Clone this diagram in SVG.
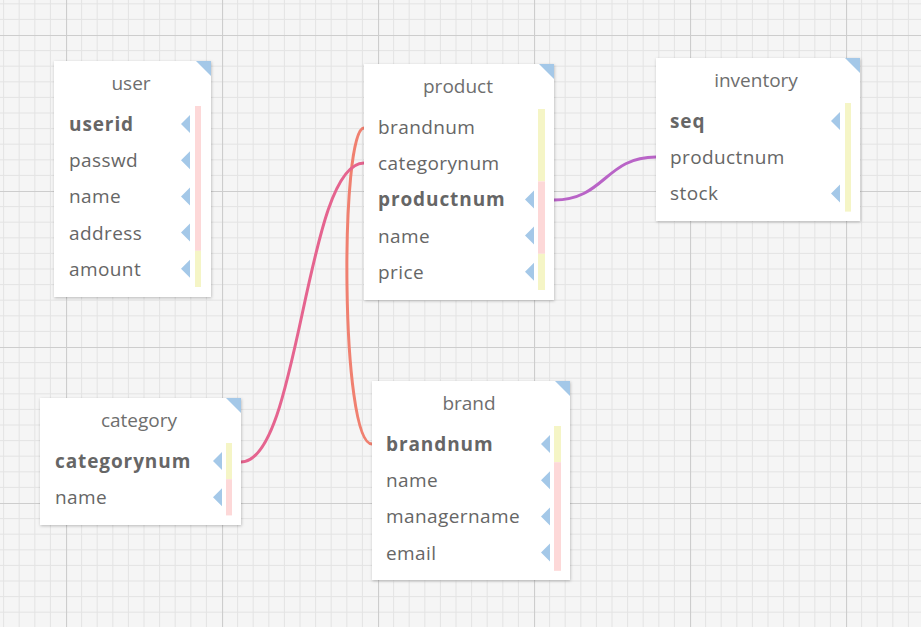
<svg xmlns="http://www.w3.org/2000/svg" width="924" height="635" viewBox="0 0 924 635">
<defs>
<pattern id="grid" x="66" y="35" width="156" height="156" patternUnits="userSpaceOnUse">
<rect width="156" height="156" fill="#f5f5f5"/>
<path d="M15.6 0V156M31.2 0V156M46.8 0V156M62.4 0V156M78 0V156M93.6 0V156M109.2 0V156M124.8 0V156M140.4 0V156M0 15.6H156M0 31.2H156M0 46.8H156M0 62.4H156M0 78H156M0 93.6H156M0 109.2H156M0 124.8H156M0 140.4H156" stroke="#e4e4e4" stroke-width="1" fill="none"/>
<path d="M0.5 0V156M0 0.5H156" stroke="#cdcdcd" stroke-width="1.2" fill="none"/>
</pattern>
<filter id="sh" x="-10%" y="-10%" width="120%" height="120%">
<feDropShadow dx="0.5" dy="1" stdDeviation="1.5" flood-color="#000" flood-opacity="0.25"/>
</filter>
</defs>
<style>
.box{fill:#fff;filter:url(#sh)}
.corner{fill:#a4c8e8}
.title{font-family:"Open Sans","Noto Sans",sans-serif;font-size:19px;fill:#6e6e6e;text-anchor:middle}
.f{font-family:"Open Sans","Noto Sans",sans-serif;font-size:19px;fill:#666;letter-spacing:0.4px}
.k{font-weight:bold;letter-spacing:0.9px}
.tri{fill:#a4c8e8}
.y{fill:#f5f5c6}
.p{fill:#fdd8d8}
.c{fill:none;stroke-width:3;stroke-linecap:round}
</style>
<rect x="0" y="0" width="924" height="635" fill="#fff"/>
<rect x="0" y="0" width="921" height="627" fill="url(#grid)"/>

<g id="connectors">
<path class="c" d="M364,128 C340,128 340,444 372,444" stroke="#f08070"/>
<path class="c" d="M241,462 C300,462 305,163 364,163" stroke="#e5648f"/>
<path class="c" d="M554,200 C605,200 605,157 656,157" stroke="#b964c7"/>
</g>

<g id="user">
<rect class="box" x="54" y="61" width="157" height="236"/>
<polygon class="corner" points="196,61 211,61 211,76"/>
<text class="title" x="131" y="89.5">user</text>
<rect class="p" x="195" y="106" width="6" height="144.8"/>
<rect class="y" x="195" y="250.8" width="6" height="36.2"/>
<text class="f k" x="69" y="131">userid</text>
<text class="f" x="69" y="167.2">passwd</text>
<text class="f" x="69" y="203.4">name</text>
<text class="f" x="69" y="239.6">address</text>
<text class="f" x="69" y="275.8">amount</text>
<polygon class="tri" points="181,124 190,115 190,133"/>
<polygon class="tri" points="181,160.2 190,151.2 190,169.2"/>
<polygon class="tri" points="181,196.4 190,187.4 190,205.4"/>
<polygon class="tri" points="181,232.6 190,223.6 190,241.6"/>
<polygon class="tri" points="181,268.8 190,259.8 190,277.8"/>
</g>

<g id="product">
<rect class="box" x="364" y="64" width="190" height="236"/>
<polygon class="corner" points="539,64 554,64 554,79"/>
<text class="title" x="458" y="92.5">product</text>
<rect class="y" x="538" y="109" width="7" height="72.4"/>
<rect class="p" x="538" y="181.4" width="7" height="72.4"/>
<rect class="y" x="538" y="253.8" width="7" height="36.2"/>
<text class="f" x="378" y="134">brandnum</text>
<text class="f" x="378" y="170.2">categorynum</text>
<text class="f k" x="378" y="206.4">productnum</text>
<text class="f" x="378" y="242.6">name</text>
<text class="f" x="378" y="278.8">price</text>
<polygon class="tri" points="525,199.4 534,190.4 534,208.4"/>
<polygon class="tri" points="525,235.6 534,226.6 534,244.6"/>
<polygon class="tri" points="525,271.8 534,262.8 534,280.8"/>
</g>

<g id="inventory">
<rect class="box" x="656" y="58" width="204" height="163"/>
<polygon class="corner" points="845,58 860,58 860,73"/>
<text class="title" x="756" y="86.5">inventory</text>
<rect class="y" x="845" y="103" width="6" height="108.6"/>
<text class="f k" x="670" y="128">seq</text>
<text class="f" x="670" y="164.2">productnum</text>
<text class="f" x="670" y="200.4">stock</text>
<polygon class="tri" points="831,121 840,112 840,130"/>
<polygon class="tri" points="831,193.4 840,184.4 840,202.4"/>
</g>

<g id="category">
<rect class="box" x="40" y="398" width="201" height="127"/>
<polygon class="corner" points="226,398 241,398 241,413"/>
<text class="title" x="139" y="426.5">category</text>
<rect class="y" x="226" y="443" width="6" height="36.2"/>
<rect class="p" x="226" y="479.2" width="6" height="36.2"/>
<text class="f k" x="55" y="468">categorynum</text>
<text class="f" x="55" y="504.2">name</text>
<polygon class="tri" points="213,461 222,452 222,470"/>
<polygon class="tri" points="213,497.2 222,488.2 222,506.2"/>
</g>

<g id="brand">
<rect class="box" x="372" y="381" width="198" height="199"/>
<polygon class="corner" points="555,381 570,381 570,396"/>
<text class="title" x="469" y="409.5">brand</text>
<rect class="y" x="554" y="426" width="7" height="36.2"/>
<rect class="p" x="554" y="462.2" width="7" height="108.6"/>
<text class="f k" x="386" y="451">brandnum</text>
<text class="f" x="386" y="487.2">name</text>
<text class="f" x="386" y="523.4">managername</text>
<text class="f" x="386" y="559.6">email</text>
<polygon class="tri" points="541,444 550,435 550,453"/>
<polygon class="tri" points="541,480.2 550,471.2 550,489.2"/>
<polygon class="tri" points="541,516.4 550,507.4 550,525.4"/>
<polygon class="tri" points="541,552.6 550,543.6 550,561.6"/>
</g>
</svg>
